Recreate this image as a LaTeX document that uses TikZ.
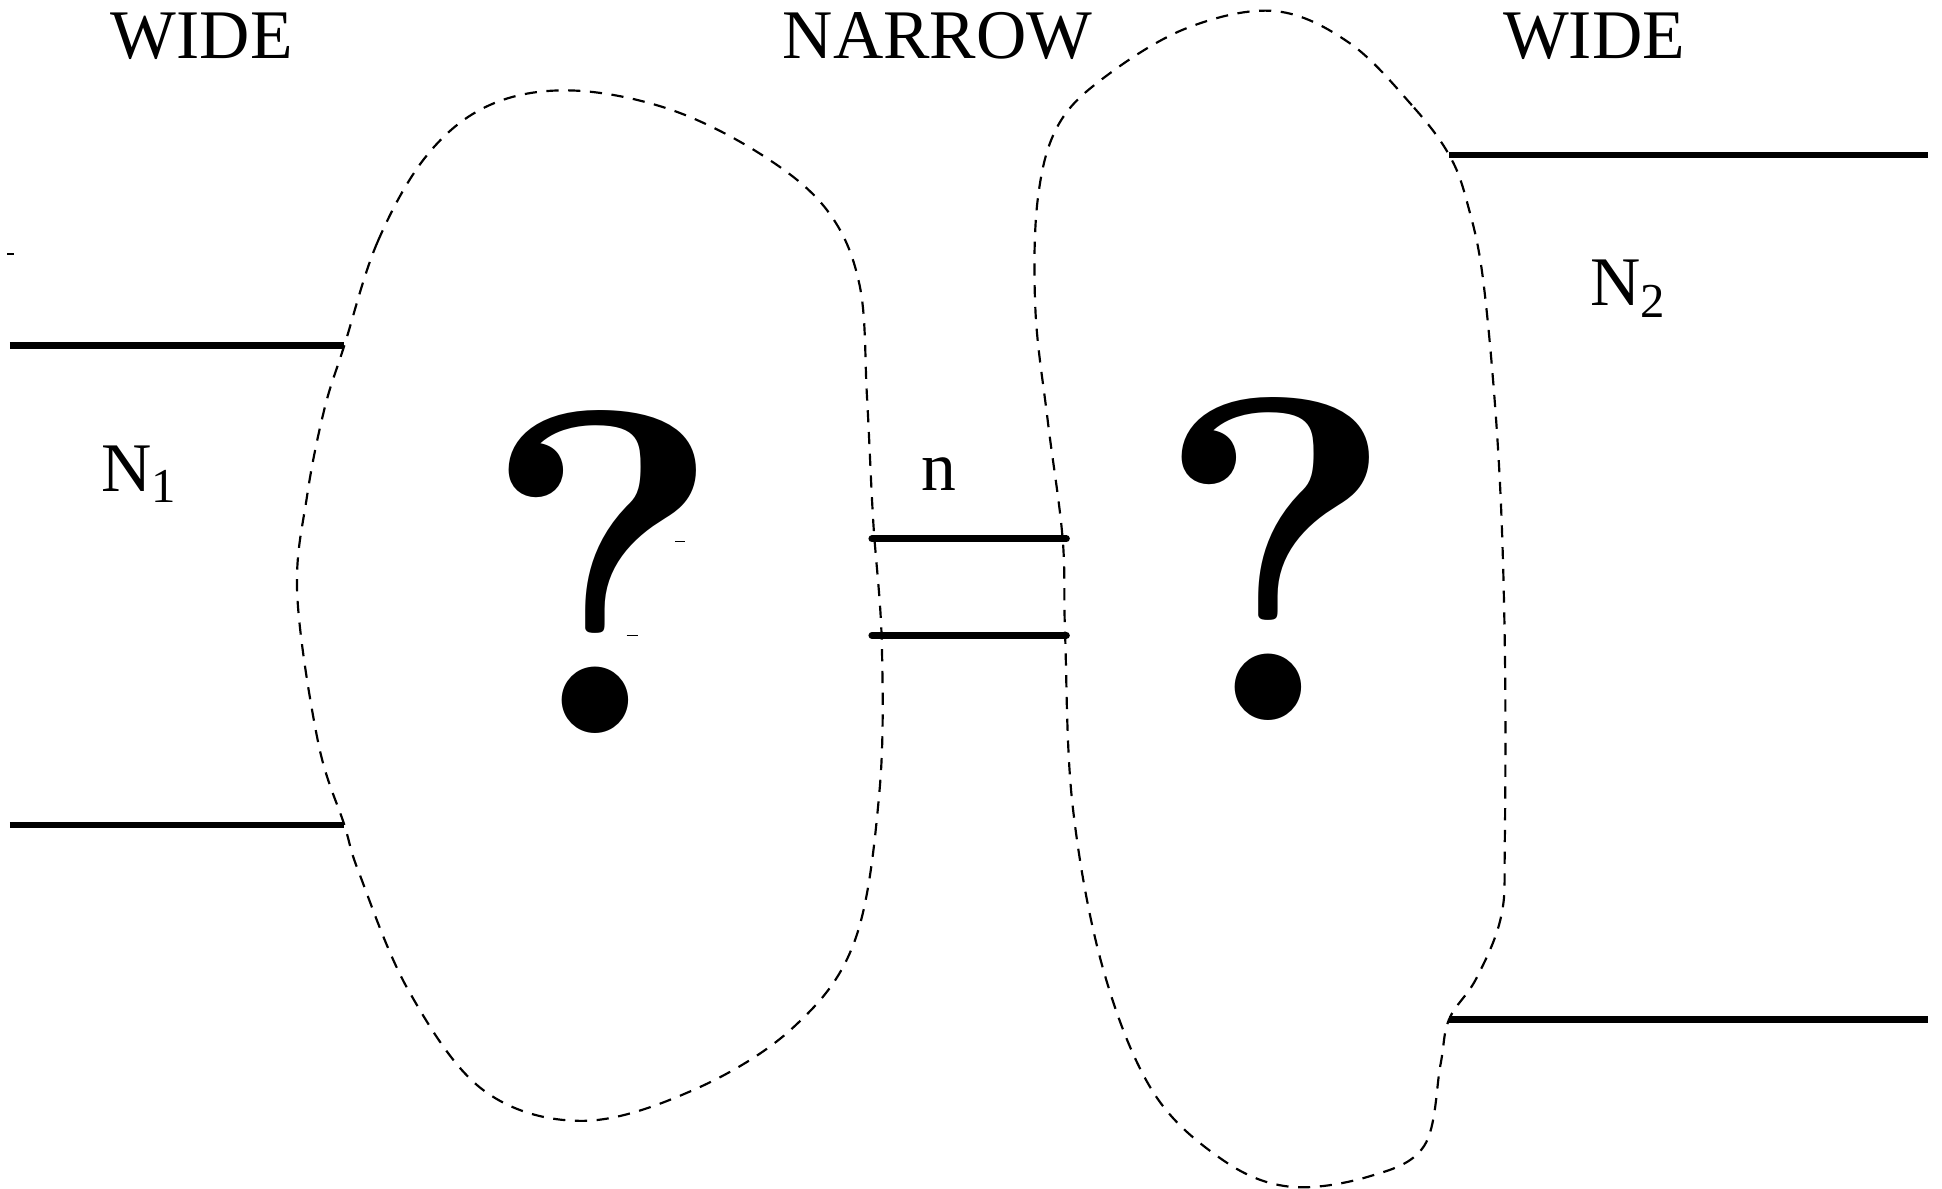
\documentclass[tikz,border=0pt]{standalone}
\usepackage{fontspec}
\setmainfont{Liberation Serif}
\newfontfamily\qmfont{Latin Modern Roman}
\begin{document}
\begin{tikzpicture}[x=0.1mm,y=-0.1mm,
  wall/.style={line width=1.5pt},
  narrowwall/.style={line width=1.6pt,line cap=round},
  blob/.style={line width=0.5pt,dash pattern=on 2.8pt off 2.2pt},
  tick/.style={line width=0.3pt},
  lbl/.style={font=\fontsize{16}{18}\selectfont,anchor=base,inner sep=0pt},
  qm/.style={font=\qmfont\bfseries\fontsize{106}{110}\selectfont,anchor=base,inner sep=0pt}]
\useasboundingbox (0,0) rectangle (1568,960);
% labels
\node[lbl] (w1) at (163,47) {WIDE};
\node[lbl] (nar) at (757,47) {NARROW};
\node[lbl] (w2) at (1287,47) {WIDE};
\node[lbl] (n1) at (113,397) {N\textsubscript{1}};
\node[lbl] (nn) at (758,396) {n};
\node[lbl] (n2) at (1315,247) {N\textsubscript{2}};
\node[qm] (q1) at (487,592) {?};
\node[qm] (q2) at (1030,582) {?};
% channel walls
\coordinate (a1) at (8,279); \coordinate (a2) at (278,279);
\coordinate (b1) at (8,666); \coordinate (b2) at (278,666);
\coordinate (c1) at (704,435); \coordinate (c2) at (861,435);
\coordinate (d1) at (704,513); \coordinate (d2) at (861,513);
\coordinate (e1) at (1170,125); \coordinate (e2) at (1557,125);
\coordinate (f1) at (1170,823); \coordinate (f2) at (1557,823);
\draw[wall] (a1) -- (a2);
\draw[wall] (b1) -- (b2);
\draw[narrowwall] (c1) -- (c2);
\draw[narrowwall] (d1) -- (d2);
\draw[wall] (e1) -- (e2);
\draw[wall] (f1) -- (f2);
% small stray ticks
\coordinate (t1) at (6,205); \coordinate (t1e) at (11,205);
\coordinate (t2) at (545,437); \coordinate (t2e) at (553,437);
\coordinate (t3) at (506,513); \coordinate (t3e) at (515,513);
\coordinate (t4) at (468,549); \coordinate (t4e) at (477,549);
\draw[tick] (t1) -- (t1e);
\draw[tick] (t2) -- (t2e);
\draw[tick] (t3) -- (t3e);
\draw[tick] (t4) -- (t4e);
% left blob
\draw[blob] plot[smooth cycle,tension=0.6] coordinates {
 (278,279) (305,195) (345,125) (395,85) (460,73) (540,88) (615,125) (668,170) (694,230)
 (700,320) (705,420) (712,520) (710,640) (690,760) (640,830) (560,880) (470,905)
 (390,880) (330,800) (290,705) (278,666) (257,600) (240,480) (248,400) (262,330)};
% right blob
\draw[blob] plot[smooth cycle,tension=0.6] coordinates {
 (1170,125) (1140,85) (1090,35) (1030,9) (960,22) (895,60) (855,100) (838,160)
 (836,250) (846,340) (858,435) (860,513) (866,650) (890,780) (930,880) (985,935)
 (1040,958) (1105,950) (1150,925) (1163,860) (1170,823) (1192,790) (1212,740)
 (1215,680) (1215,520) (1210,370) (1198,230) (1185,165)};
\end{tikzpicture}
\end{document}
